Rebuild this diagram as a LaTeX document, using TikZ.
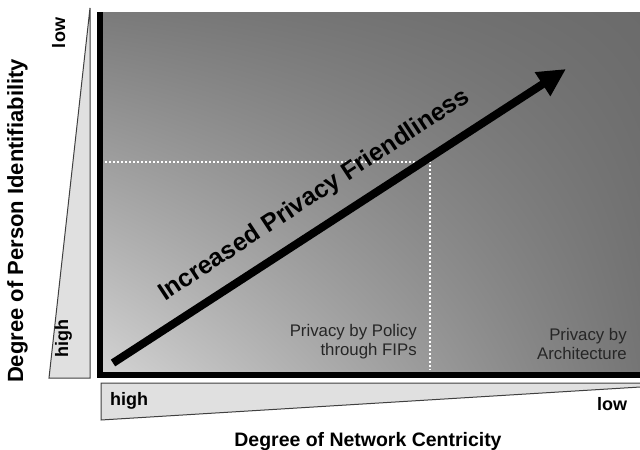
\documentclass[tikz,border=0pt]{standalone}
\usepackage{fontspec}
\setmainfont{Liberation Sans}
\usetikzlibrary{arrows.meta,shadings}
\begin{document}
\begin{tikzpicture}[x=0.75pt,y=-0.75pt,
 wedge/.style={fill=black!12,draw=black!75,line width=0.75pt},
 bigtitle/.style={font=\bfseries\fontsize{16.5}{18}\selectfont,inner sep=0,anchor=base},
 endword/.style={font=\bfseries\fontsize{13.5}{15}\selectfont,inner sep=0,anchor=base},
 zone/.style={font=\fontsize{12.6}{14.25}\selectfont,text=black!85,align=right,inner sep=0,anchor=south east},
 dotline/.style={white,line width=1.8pt,dash pattern=on 1.4pt off 1.6pt}]
 \useasboundingbox (0,0) rectangle (640,450);
 \fill[lower left=black!17,upper left=black!52,upper right=black!58,lower right=black!54] (100,12) rectangle (640,375);
 \draw[line width=4.5pt] (100,12) -- (100,375) -- (640,375);
 \coordinate (hstart) at (105,162);
 \coordinate (cross) at (430,162);
 \coordinate (vend) at (430,370);
 \draw[dotline] (hstart) -- (cross) -- (vend);
 \coordinate (arrstart) at (113,363);
 \coordinate (arrtip) at (566,69);
 \draw[line width=6pt,-{Triangle[length=21pt,width=20pt]}] (arrstart) -- (arrtip);
 \node[font=\bfseries\fontsize{18.7}{20}\selectfont,rotate=33.3,anchor=base,inner sep=0] (incr) at (318,201) {Increased Privacy Friendliness};
 \node[zone] (policy) at (417,359.5) {Privacy by Policy\\through FIPs};
 \node[zone] (archi) at (627,359.5) {Privacy by\\Architecture};
 \draw[wedge] (90,8) -- (90,378) -- (49,378) -- cycle;
 \draw[wedge] (101,420) -- (101,383) -- (660,383) -- (660,385.8) -- cycle;
 \node[bigtitle,rotate=90] (pident) at (23,221) {Degree of Person Identifiability};
 \node[endword,rotate=90] (plow) at (65,33) {low};
 \node[endword,rotate=90] (phigh) at (68,339) {high};
 \node[endword] (nhigh) at (129,405) {high};
 \node[endword] (nlow) at (612,410) {low};
 \node[bigtitle,font=\bfseries\fontsize{14.6}{16}\selectfont] (ncentr) at (368,446) {Degree of Network Centricity};
\end{tikzpicture}
\end{document}
